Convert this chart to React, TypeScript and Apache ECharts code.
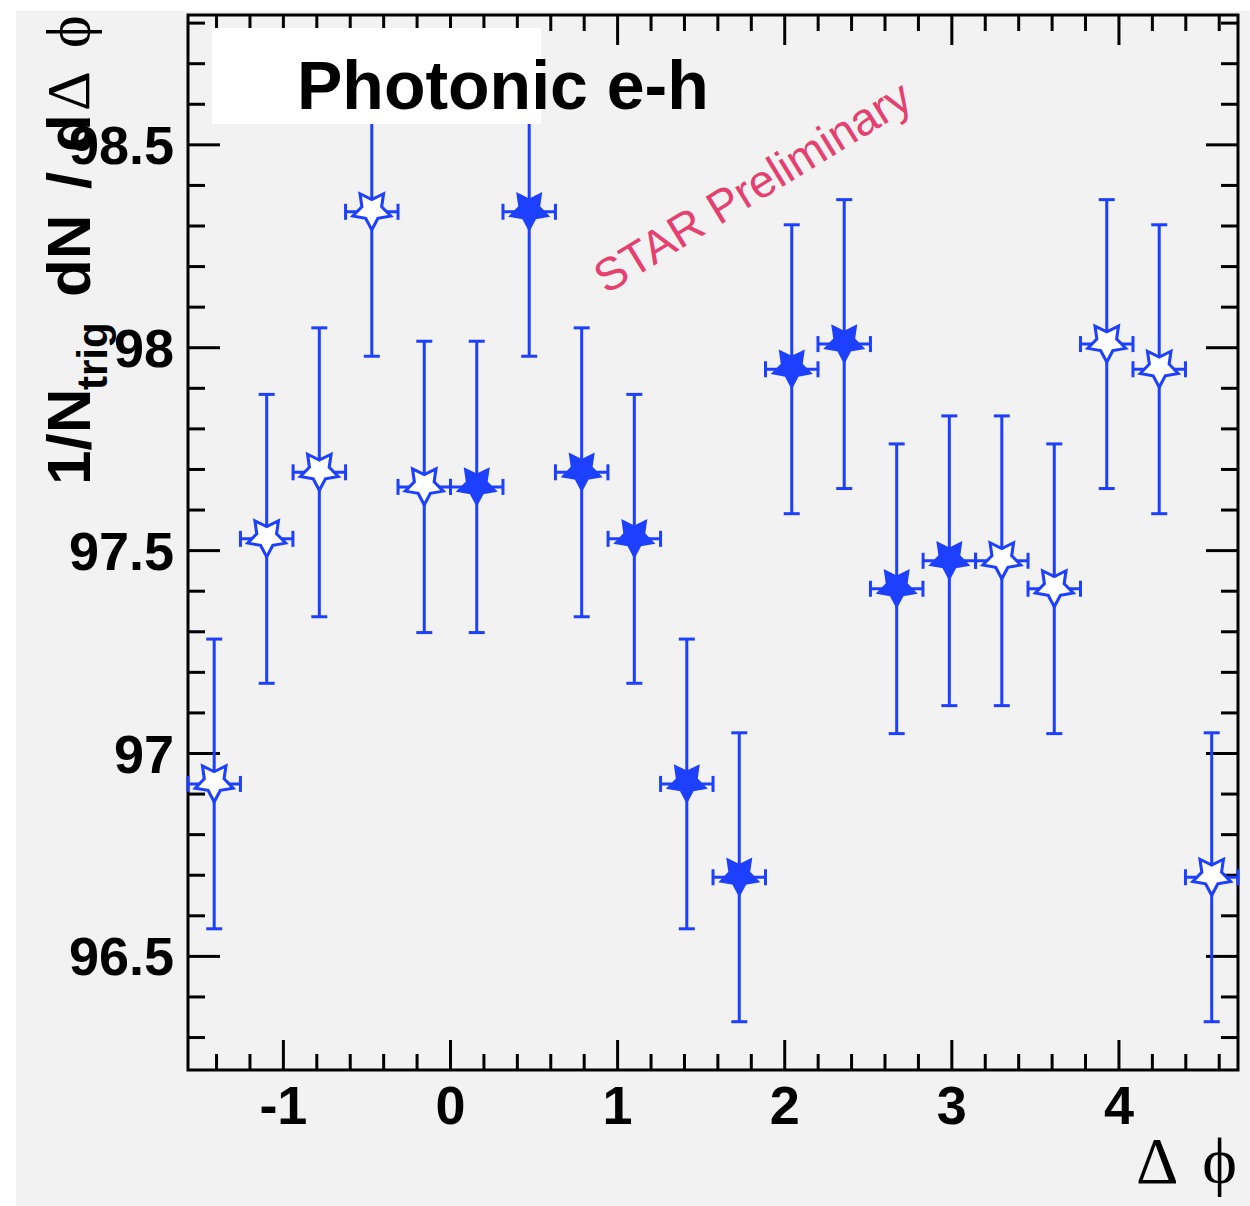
import React, { useEffect, useRef } from "react";
import * as echarts from "echarts";

// ---- axis ranges ----
const XMIN = -Math.PI / 2;
const XMAX = (3 * Math.PI) / 2;
const YMIN = 96.22;
const YMAX = 98.82;

// ---- data ----
const dphi = [
  -1.414, -1.1, -0.785, -0.471, -0.157, 0.157, 0.471, 0.785, 1.1, 1.414,
  1.728, 2.042, 2.356, 2.67, 2.985, 3.299, 3.613, 3.927, 4.241, 4.555,
];
const yields = [
  96.925, 97.529, 97.693, 98.335, 97.657, 97.657, 98.335, 97.693, 97.529, 96.925,
  96.695, 97.947, 98.009, 97.406, 97.475, 97.475, 97.406, 98.009, 97.947, 96.695,
];
const yErrors = [
  0.357, 0.356, 0.356, 0.356, 0.359, 0.359, 0.356, 0.356, 0.356, 0.357,
  0.356, 0.356, 0.356, 0.357, 0.357, 0.357, 0.357, 0.356, 0.356, 0.356,
];
const xHalfWidth = 0.157;
// open (reflected) stars vs filled stars
const reflected = [
  true, true, true, true, true, false, false, false, false, false,
  false, false, false, false, false, true, true, true, true, true,
];

// ---- ticks ----
const xMajorTicks = [-1, 0, 1, 2, 3, 4];
const yMajorTicks = [96.5, 97, 97.5, 98, 98.5];
const xMinorStep = 0.2;
const yMinorStep = 0.1;

const BLUE = "#1d40ff";
const STAR =
  "path://M0,1 L0.3058,0.4207 L0.951,0.309 L0.4945,-0.1607 L0.588,-0.809 L0,-0.52 L-0.588,-0.809 L-0.4945,-0.1607 L-0.951,0.309 L-0.3058,0.4207 Z";

const SANS = '"Liberation Sans", Arial, Helvetica, sans-serif';
const SERIF = '"Liberation Serif", "Times New Roman", serif';
const PHI = "\u03D5";

function minorValues(min: number, max: number, step: number, majors: number[]) {
  const out: number[] = [];
  const k0 = Math.ceil(min / step - 1e-9);
  const k1 = Math.floor(max / step + 1e-9);
  for (let k = k0; k <= k1; k++) {
    const v = +(k * step).toFixed(6);
    if (v <= min || v >= max) continue;
    if (majors.some((m) => Math.abs(m - v) < 1e-6)) continue;
    out.push(v);
  }
  return out;
}

export default function App() {
  const ref = useRef<HTMLDivElement>(null);

  useEffect(() => {
    document.body.style.margin = "0";
    if (!ref.current) return;
    const chart = echarts.init(ref.current, undefined, { renderer: "svg" });

    const xMinor = minorValues(XMIN, XMAX, xMinorStep, xMajorTicks);
    const yMinor = minorValues(YMIN, YMAX, yMinorStep, yMajorTicks);

    const points = dphi.map((x, i) => [x, yields[i], yErrors[i]]);
    const openPts = points.filter((_, i) => reflected[i]).map((p) => [p[0], p[1]]);
    const fullPts = points.filter((_, i) => !reflected[i]).map((p) => [p[0], p[1]]);

    const tickStyle = { stroke: "#000", lineWidth: 3 };

    const option: any = {
      animation: false,
      backgroundColor: "#f2f2f2",
      grid: {
        left: 188,
        top: 15,
        width: 1050,
        height: 1055,
        show: true,
        borderColor: "#000",
        borderWidth: 3,
        backgroundColor: "transparent",
        outerBoundsMode: "none",
      },
      xAxis: {
        type: "value",
        min: XMIN,
        max: XMAX,
        splitNumber: 5,
        axisLine: { show: false },
        axisTick: { show: false },
        splitLine: { show: false },
        axisLabel: {
          showMinLabel: false,
          showMaxLabel: false,
          fontSize: 54,
          fontWeight: "bold",
          fontFamily: SANS,
          color: "#000",
          margin: 8,
          formatter: (v: number) => String(Math.round(v)),
        },
      },
      yAxis: {
        type: "value",
        min: YMIN,
        max: YMAX,
        splitNumber: 5,
        axisLine: { show: false },
        axisTick: { show: false },
        splitLine: { show: false },
        axisLabel: {
          showMinLabel: false,
          showMaxLabel: false,
          fontSize: 54,
          fontWeight: "bold",
          fontFamily: SANS,
          color: "#000",
          margin: 14,
          formatter: (v: number) => String(+v.toFixed(2)),
        },
      },
      series: [
        {
          type: "custom",
          name: "ticks",
          silent: true,
          z: 1,
          data: [[0, 0]],
          renderItem: (_p: any, api: any) => {
            const children: any[] = [];
            const addX = (v: number, len: number) => {
              const b = api.coord([v, YMIN]);
              const t = api.coord([v, YMAX]);
              children.push({ type: "line", shape: { x1: b[0], y1: b[1], x2: b[0], y2: b[1] - len }, style: tickStyle });
              children.push({ type: "line", shape: { x1: t[0], y1: t[1], x2: t[0], y2: t[1] + len }, style: tickStyle });
            };
            const addY = (v: number, len: number) => {
              const l = api.coord([XMIN, v]);
              const r = api.coord([XMAX, v]);
              children.push({ type: "line", shape: { x1: l[0], y1: l[1], x2: l[0] + len, y2: l[1] }, style: tickStyle });
              children.push({ type: "line", shape: { x1: r[0], y1: r[1], x2: r[0] - len, y2: r[1] }, style: tickStyle });
            };
            xMajorTicks.forEach((v) => addX(v, 30));
            xMinor.forEach((v) => addX(v, 16));
            yMajorTicks.forEach((v) => addY(v, 32));
            yMinor.forEach((v) => addY(v, 17));
            return { type: "group", children };
          },
        },
        {
          type: "custom",
          name: "errors",
          silent: true,
          z: 2,
          data: points,
          encode: { x: 0, y: 1 },
          renderItem: (_p: any, api: any) => {
            const x = api.value(0);
            const y = api.value(1);
            const e = api.value(2);
            const top = api.coord([x, y + e]);
            const bot = api.coord([x, y - e]);
            const l = api.coord([x - xHalfWidth, y]);
            const r = api.coord([x + xHalfWidth, y]);
            const st = { stroke: BLUE, lineWidth: 3 };
            const cap = 8;
            return {
              type: "group",
              children: [
                { type: "line", shape: { x1: top[0], y1: top[1], x2: bot[0], y2: bot[1] }, style: st },
                { type: "line", shape: { x1: top[0] - cap, y1: top[1], x2: top[0] + cap, y2: top[1] }, style: st },
                { type: "line", shape: { x1: bot[0] - cap, y1: bot[1], x2: bot[0] + cap, y2: bot[1] }, style: st },
                { type: "line", shape: { x1: l[0], y1: l[1], x2: r[0], y2: r[1] }, style: st },
                { type: "line", shape: { x1: l[0], y1: l[1] - cap, x2: l[0], y2: l[1] + cap }, style: st },
                { type: "line", shape: { x1: r[0], y1: r[1] - cap, x2: r[0], y2: r[1] + cap }, style: st },
              ],
            };
          },
        },
        {
          type: "scatter",
          name: "filled",
          z: 3,
          data: fullPts,
          symbol: STAR,
          symbolSize: [38, 36],
          itemStyle: { color: BLUE, borderColor: BLUE, borderWidth: 2, opacity: 1 },
        },
        {
          type: "scatter",
          name: "open",
          z: 3,
          data: openPts,
          symbol: STAR,
          symbolSize: [38, 36],
          itemStyle: { color: "#ffffff", borderColor: BLUE, borderWidth: 3, opacity: 1 },
        },
      ],
      graphic: [
        { type: "rect", z: 50, silent: true, shape: { x: 0, y: 0, width: 1250, height: 11 }, style: { fill: "#ffffff" } },
        { type: "rect", z: 50, silent: true, shape: { x: 0, y: 0, width: 16, height: 1206 }, style: { fill: "#ffffff" } },
        { type: "rect", z: 100, silent: true, shape: { x: 212, y: 28, width: 329, height: 96 }, style: { fill: "#ffffff" } },
        {
          type: "text", z: 101, silent: true, x: 297, y: 85.4,
          style: { text: "Photonic e-h", font: `bold 68px ${SANS}`, fill: "#000", textAlign: "left", textVerticalAlign: "middle" },
        },
        {
          type: "text", z: 101, silent: true, x: 598, y: 281, rotation: (31.5 * Math.PI) / 180,
          style: { text: "STAR Preliminary", font: `46px ${SANS}`, fill: "#e5406f", textAlign: "left", textVerticalAlign: "middle" },
        },
        // x-axis title
        {
          type: "text", z: 101, silent: true, x: 1136, y: 1160.7,
          style: { text: "Δ", font: `66px ${SERIF}`, fill: "#000", textAlign: "left", textVerticalAlign: "middle" },
        },
        {
          type: "text", z: 101, silent: true, x: 1237, y: 1160.7,
          style: { text: PHI, font: `66px ${SERIF}`, fill: "#000", textAlign: "right", textVerticalAlign: "middle" },
        },
        // y-axis title pieces (rotated)
        {
          type: "text", z: 101, silent: true, x: 68.5, y: 485, rotation: Math.PI / 2,
          style: { text: "1/N", font: `bold 62px ${SANS}`, fill: "#000", textAlign: "left", textVerticalAlign: "middle" },
        },
        {
          type: "text", z: 101, silent: true, x: 92.4, y: 390, rotation: Math.PI / 2,
          style: { text: "trig", font: `bold 42px ${SANS}`, fill: "#000", textAlign: "left", textVerticalAlign: "middle" },
        },
        {
          type: "text", z: 101, silent: true, x: 68.5, y: 297, rotation: Math.PI / 2,
          style: { text: "dN", font: `bold 62px ${SANS}`, fill: "#000", textAlign: "left", textVerticalAlign: "middle" },
        },
        {
          type: "text", z: 101, silent: true, x: 68.5, y: 189, rotation: Math.PI / 2,
          style: { text: "/", font: `bold 62px ${SANS}`, fill: "#000", textAlign: "left", textVerticalAlign: "middle" },
        },
        {
          type: "text", z: 101, silent: true, x: 68.5, y: 152, rotation: Math.PI / 2,
          style: { text: "d", font: `bold 62px ${SANS}`, fill: "#000", textAlign: "left", textVerticalAlign: "middle" },
        },
        {
          type: "text", z: 101, silent: true, x: 68, y: 111, rotation: Math.PI / 2,
          style: { text: "Δ", font: `62px ${SERIF}`, fill: "#000", textAlign: "left", textVerticalAlign: "middle" },
        },
        {
          type: "text", z: 101, silent: true, x: 68, y: 48, rotation: Math.PI / 2,
          style: { text: PHI, font: `62px ${SERIF}`, fill: "#000", textAlign: "left", textVerticalAlign: "middle" },
        },
      ],
    };

    chart.setOption(option);
    return () => chart.dispose();
  }, []);

  return <div ref={ref} style={{ width: 1250, height: 1206 }} />;
}
